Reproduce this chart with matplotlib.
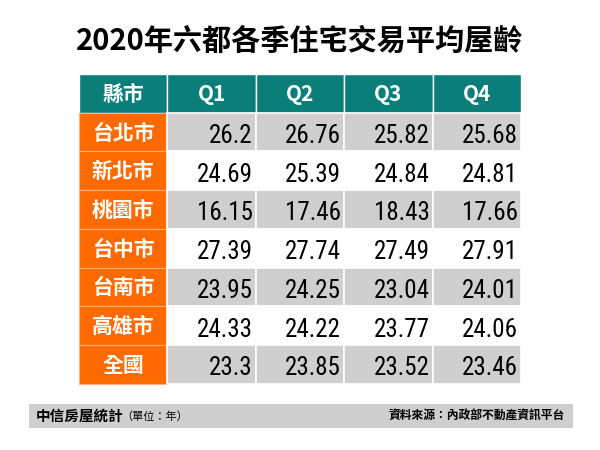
import matplotlib
matplotlib.use("Agg")
from matplotlib import pyplot as plt
from matplotlib.patches import Rectangle

plt.rcParams['font.family'] = ['Noto Sans CJK TC', 'DejaVu Sans']

title = "2020年六都各季住宅交易平均屋齡"
header = ["縣市", "Q1", "Q2", "Q3", "Q4"]
cities = ["台北市", "新北市", "桃園市", "台中市", "台南市", "高雄市", "全國"]
q1 = ["26.2", "24.69", "16.15", "27.39", "23.95", "24.33", "23.3"]
q2 = ["26.76", "25.39", "17.46", "27.74", "24.25", "24.22", "23.85"]
q3 = ["25.82", "24.84", "18.43", "27.49", "23.04", "23.77", "23.52"]
q4 = ["25.68", "24.81", "17.66", "27.91", "24.01", "24.06", "23.46"]
footer_left = "中信房屋統計"
footer_unit = "（單位：年）"
footer_right = "資料來源：內政部不動產資訊平台"

teal = "#0b7e79"
orange = "#ff6a00"
grey = "#d0cfd0"

fig = plt.figure(figsize=(6, 4.5), dpi=100)
ax = fig.add_axes([0, 0, 1, 1])
ax.set_xlim(0, 600)
ax.set_ylim(450, 0)
ax.axis("off")

x0, y0 = 79, 74
cw, rh = 88.4, 38.7
num_font = ['Roboto Condensed', 'Roboto', 'DejaVu Sans']

ax.text(300, 41, title, ha="center", va="center", fontsize=21, fontweight="bold")

# header row
for j, h in enumerate(header):
    ax.add_patch(Rectangle((x0 + j * cw, y0), cw, rh, facecolor=teal,
                           edgecolor="white", linewidth=1))
    ax.text(x0 + j * cw + cw / 2, y0 + rh / 2 + 1, h, ha="center", va="center",
            color="white", fontsize=15, fontweight="bold")

cols = [q1, q2, q3, q4]
for i, city in enumerate(cities):
    y = y0 + (i + 1) * rh
    bg = grey if i % 2 == 0 else "white"
    ax.add_patch(Rectangle((x0, y), cw, rh, facecolor=orange,
                           edgecolor="#ffb080", linewidth=0.8))
    ax.text(x0 + cw / 2, y + rh / 2 + 1, city, ha="center", va="center",
            color="white", fontsize=15, fontweight="bold")
    for j, col in enumerate(cols):
        xl = x0 + (j + 1) * cw
        ax.add_patch(Rectangle((xl, y), cw, rh, facecolor=bg,
                               edgecolor="white", linewidth=1.2))
        ax.text(xl + cw - 3, y + rh / 2 + 11, col[i], ha="right", va="baseline",
                color="black", fontsize=18, family=num_font)

# footer bar
ax.add_patch(Rectangle((29, 404), 544, 24, facecolor=grey, edgecolor="none"))
ax.text(36, 416, footer_left, ha="left", va="center", fontsize=10.5, fontweight="bold")
ax.text(121, 416.5, footer_unit, ha="left", va="center", fontsize=8)
ax.text(565, 416.5, footer_right, ha="right", va="center", fontsize=8.5, fontweight="bold")

fig.savefig("out.png", dpi=100)
